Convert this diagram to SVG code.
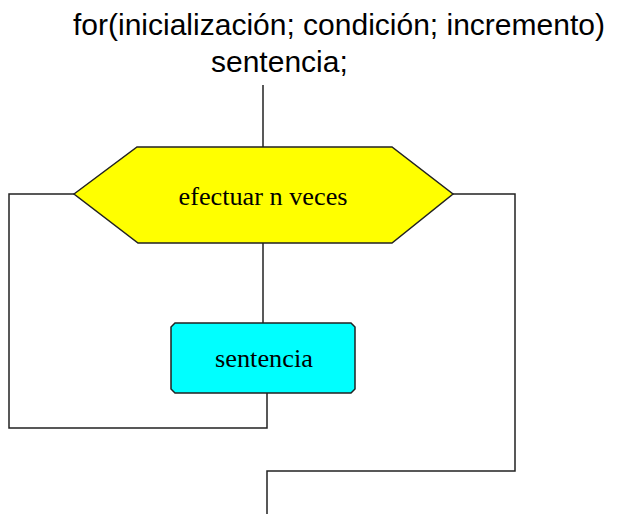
<svg xmlns="http://www.w3.org/2000/svg" width="624" height="514" viewBox="0 0 624 514">
<style>
.title{font-family:"Liberation Sans",Arial,sans-serif;font-size:30px;fill:#000}
.lbl{font-family:"Liberation Serif","Times New Roman",serif;font-size:25px;font-weight:normal;fill:#000}
.edge{fill:none;stroke:#222;stroke-width:1.5}
.shape{stroke:#222;stroke-width:1.5}
</style>
<rect width="624" height="514" fill="#fff"/>
<g id="title">
<text class="title" x="73" y="35">for(inicialización; condición; incremento)</text>
<text class="title" x="211" y="72">sentencia;</text>
</g>
<g id="connectors">
<polyline class="edge" points="263,85 263,147"/>
<polyline class="edge" points="263,243 263,323"/>
<polyline class="edge" points="267,393 267,428 9,428 9,194 74,194"/>
<polyline class="edge" points="453,194 515,194 515,471 267,471 267,514"/>
</g>
<g id="loop">
<polygon class="shape" fill="#ffff00" points="74,194 137,147 392,147 453,194 392,243 138,243"/>
<text class="lbl" x="263" y="205" text-anchor="middle" textLength="169" lengthAdjust="spacingAndGlyphs">efectuar n veces</text>
</g>
<g id="sentencia">
<polygon class="shape" fill="#00ffff" points="175,323 351,323 355,327 355,389 351,393 175,393 171,389 171,327"/>
<text class="lbl" x="264" y="367" text-anchor="middle" textLength="98" lengthAdjust="spacingAndGlyphs">sentencia</text>
</g>
</svg>
